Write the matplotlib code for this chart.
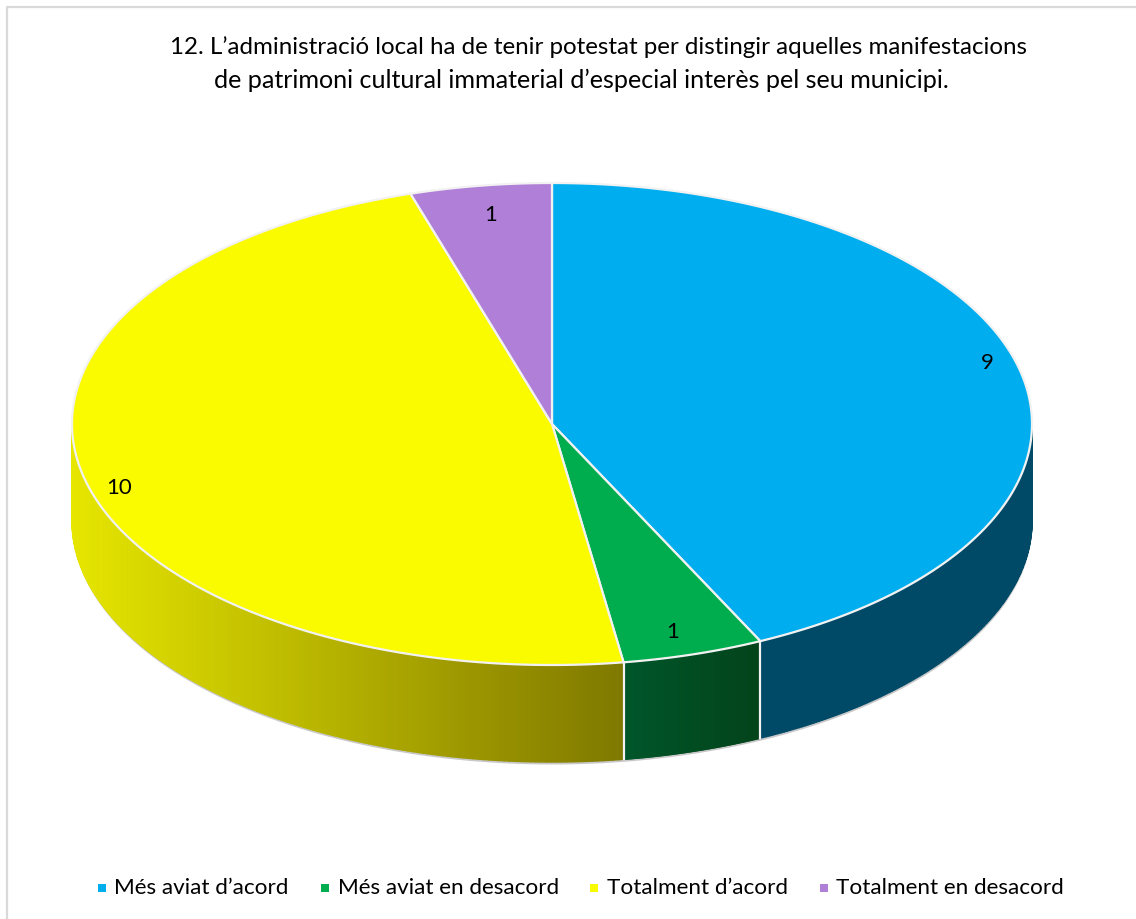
import numpy as np
import matplotlib
matplotlib.use("Agg")
import matplotlib.pyplot as plt
from matplotlib.patches import Polygon, Rectangle
from matplotlib.colors import to_rgb

plt.rcParams['font.family'] = ['Lato', 'DejaVu Sans']

title_lines = ["12. L’administració local ha de tenir potestat per distingir aquelles manifestacions",
               "de patrimoni cultural immaterial d’especial interès pel seu municipi."]
categories = ["Més aviat d’acord", "Més aviat en desacord", "Totalment d’acord", "Totalment en desacord"]
values = [9, 1, 10, 1]
colors = ["#00AEEF", "#00AD4E", "#FBFB00", "#B07FD8"]
wall_left = ["#004A68", "#00562A", "#E6E600", "#6A4A90"]
wall_right = ["#004A68", "#03431A", "#7F7800", "#6A4A90"]

#where the numbers sit, in pixels of the picture
label_pos = [(987, 363), (673, 632), (119, 488), (491, 215)]
title_x = [598, 581]
title_size = [17.4, 18.05]
legend_marker_x = [102, 325, 594, 824]
legend_text_x = [114, 338, 607, 836]

cx, cy = 552, 424
rx, ry = 480, 241
depth = 97


def rim(theta):
    return cx + rx * np.sin(theta), cy - ry * np.cos(theta)


fig = plt.figure(figsize=(11.36, 9.19), dpi=100)
ax = fig.add_axes([0, 0, 1, 1])
ax.set_xlim(0, 1136)
ax.set_ylim(919, 0)
ax.axis('off')

# frame, only top and left show in the crop
ax.plot([7, 7, 1136], [919, 7, 7], color='#D9D9D9', lw=1.6)

for i, line in enumerate(title_lines):
    ax.text(title_x[i], 47 + i * 33, line, fontsize=title_size[i], ha='center', va='center', color='black')

edges = np.cumsum([0] + values) / sum(values) * 2 * np.pi

# side wall, only the front half of the disc shows
tt = np.linspace(np.pi / 2, 3 * np.pi / 2, 300)
ax.fill_between(rim(tt)[0], rim(tt)[1] + depth + 2, rim(tt)[1], color='#C8C8C8', lw=0, zorder=1)
for i in range(len(values)):
    a = max(edges[i], np.pi / 2)
    b = min(edges[i + 1], 3 * np.pi / 2)
    if b <= a:
        continue
    ts = np.linspace(a, b, 160)
    xa, xb = rim(a)[0], rim(b)[0]
    c0, c1 = np.array(to_rgb(wall_left[i])), np.array(to_rgb(wall_right[i]))
    for t0, t1 in zip(ts[:-1], ts[1:]):
        x0, y0 = rim(t0)
        x1, y1 = rim(t1)
        f = ((x0 + x1) / 2 - xb) / (xa - xb)
        col = c0 + (c1 - c0) * f
        ax.add_patch(Polygon([(x0, y0), (x1, y1), (x1, y1 + depth), (x0, y0 + depth)],
                             fc=col, ec=col, lw=1.0, zorder=2))

# white seams on the wall
for e in edges:
    if np.pi / 2 < e < 3 * np.pi / 2:
        x, y = rim(e)
        ax.plot([x, x], [y, y + depth], color='#F2F2F2', lw=1.6, zorder=3)

# top face
for i in range(len(values)):
    ts = np.linspace(edges[i], edges[i + 1], 300)
    xs, ys = rim(ts)
    pts = [(cx, cy)] + list(zip(xs, ys))
    ax.add_patch(Polygon(pts, closed=True, fc=colors[i], ec='#F2F2F2', lw=1.6, zorder=4))

for (x, y), v in zip(label_pos, values):
    ax.text(x, y, str(v), fontsize=16, ha='center', va='center', color='black', zorder=5)

for mx, tx, c, name in zip(legend_marker_x, legend_text_x, colors, categories):
    ax.add_patch(Rectangle((mx - 4, 884), 8, 8, fc=c, ec='none'))
    ax.text(tx, 888, name, fontsize=16.2, ha='left', va='center', color='black')

fig.savefig("out.png", dpi=100)
